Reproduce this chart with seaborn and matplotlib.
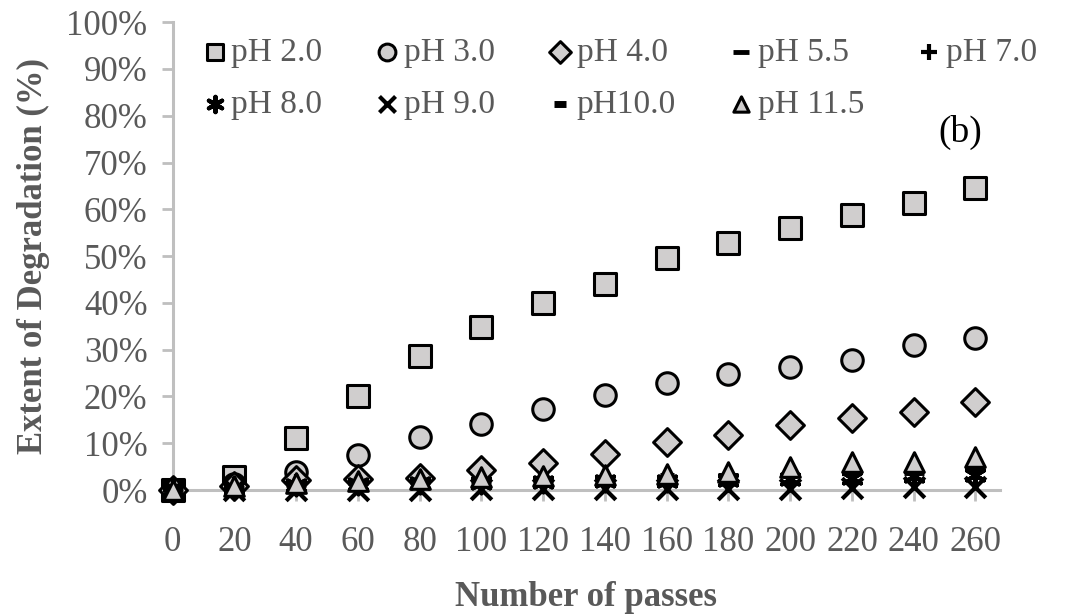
import matplotlib
matplotlib.use("Agg")
import matplotlib.pyplot as plt
import seaborn as sns
import pandas as pd
from matplotlib.ticker import PercentFormatter

passes = [0, 20, 40, 60, 80, 100, 120, 140, 160, 180, 200, 220, 240, 260]

ph_2_0 = [0, 2.8, 11.2, 20.0, 28.7, 34.8, 39.9, 44.1, 49.7, 52.7, 55.9, 58.8, 61.3, 64.6]
ph_3_0 = [0, 1.2, 3.9, 7.5, 11.3, 14.2, 17.4, 20.3, 22.9, 24.9, 26.2, 27.8, 31.0, 32.4]
ph_4_0 = [0, 0.8, 2.2, 2.3, 2.6, 4.3, 5.7, 7.7, 10.2, 11.8, 13.8, 15.5, 16.7, 18.8]
ph_5_5 = [0, 0.5, 1.0, 1.5, 1.8, 2.0, 2.2, 2.5, 2.6, 3.2, 3.3, 3.9, 3.6, 4.7]
ph_7_0 = [0, 0.6, 1.2, 1.5, 1.8, 2.2, 2.5, 2.8, 2.8, 3.0, 3.3, 3.5, 3.8, 4.2]
ph_8_0 = [0, 0.5, 1.0, 1.2, 1.5, 1.6, 1.8, 2.0, 2.0, 2.2, 2.4, 2.6, 3.0, 3.2]
ph_9_0 = [0, 0.0, 0.0, 0.1, 0.1, 0.2, 0.3, 0.2, 0.2, 0.2, 0.3, 0.5, 0.6, 0.6]
ph_10_0 = [0, 0.4, 0.8, 1.2, 1.6, 2.0, 2.3, 2.6, 2.9, 3.0, 3.2, 3.6, 3.9, 4.4]
ph_11_5 = [0, 0.9, 1.5, 2.0, 2.3, 2.7, 3.0, 3.3, 3.5, 3.8, 4.9, 6.0, 6.0, 7.0]

labels = ["pH 2.0", "pH 3.0", "pH 4.0", "pH 5.5", "pH 7.0",
          "pH 8.0", "pH 9.0", "pH10.0", "pH 11.5"]
series = [ph_2_0, ph_3_0, ph_4_0, ph_5_5, ph_7_0, ph_8_0, ph_9_0, ph_10_0, ph_11_5]

FILL = "#D0CECE"
TXT = "#595959"
AX = "#BFBFBF"

styles = {
    "pH 2.0": dict(marker="s", s=240, color=FILL, edgecolor="black", linewidth=2.2),
    "pH 3.0": dict(marker="o", s=240, color=FILL, edgecolor="black", linewidth=2.2),
    "pH 4.0": dict(marker="D", s=200, color=FILL, edgecolor="black", linewidth=2.2),
    "pH 5.5": dict(marker="_", s=200, color="black", linewidth=3.5),
    "pH 7.0": dict(marker="+", s=200, color="black", linewidth=3.0),
    "pH 8.0": dict(marker=(6, 2, 0), s=200, color="black", linewidth=3.0),
    "pH 9.0": dict(marker="x", s=220, color="black", linewidth=3.0),
    "pH10.0": dict(marker="_", s=110, color="black", linewidth=5.0),
    "pH 11.5": dict(marker="^", s=200, color=FILL, edgecolor="black", linewidth=2.2),
}

rows = []
for lab, vals in zip(labels, series):
    for x, v in zip(passes, vals):
        rows.append({"passes": x, "deg": v / 100.0, "series": lab})
df = pd.DataFrame(rows)

sns.set_theme(style="white")
plt.rcParams["font.family"] = ["Liberation Serif", "DejaVu Serif"]

fig = plt.figure(figsize=(10.72, 6.16), dpi=100)
ax = fig.add_axes([0.161, 0.2045, 0.772, 0.7595])

for lab in labels:
    sub = df[df["series"] == lab]
    sns.scatterplot(data=sub, x="passes", y="deg", ax=ax, label=lab,
                    zorder=3, clip_on=False, **styles[lab])

ax.set_xlim(0, 268)
ax.set_ylim(0, 1.0)
ax.set_xticks(passes)
ax.set_xticklabels([str(p) for p in passes])
ax.set_yticks([i / 10 for i in range(11)])
ax.yaxis.set_major_formatter(PercentFormatter(1.0, decimals=0))

for side in ["top", "right"]:
    ax.spines[side].set_visible(False)
for side in ["left", "bottom"]:
    ax.spines[side].set_color(AX)
    ax.spines[side].set_linewidth(2.2)

ax.tick_params(axis="both", which="major", direction="out", length=8, width=2,
               color=AX, labelsize=25, labelcolor=TXT, bottom=True, left=True)
ax.tick_params(axis="x", pad=18)
ax.tick_params(axis="y", pad=10)

ax.set_xlabel("Number of passes", fontsize=25, fontweight="bold", color=TXT, labelpad=16)
ax.set_ylabel("Extent of Degradation (%)", fontsize=25, fontweight="bold", color=TXT, labelpad=12)

ax.text(255, 0.765, "(b)", fontsize=27, color="black", ha="center", va="center")

handles, labs = ax.get_legend_handles_labels()
order_labels = ["pH 2.0", "pH 8.0", "pH 3.0", "pH 9.0", "pH 4.0",
                "pH10.0", "pH 5.5", "pH 11.5", "pH 7.0"]
hmap = dict(zip(labs, handles))
leg = ax.legend([hmap[l] for l in order_labels], order_labels, ncol=5,
                loc="upper left", bbox_to_anchor=(203 / 1072, 1 - 37 / 616),
                bbox_transform=fig.transFigure, frameon=False, fontsize=24,
                handlelength=0.7, handletextpad=0.15, columnspacing=1.6,
                labelspacing=0.65, markerscale=0.78, borderpad=0, borderaxespad=0)
for t in leg.get_texts():
    t.set_color(TXT)

fig.savefig("out.png", dpi=100)
